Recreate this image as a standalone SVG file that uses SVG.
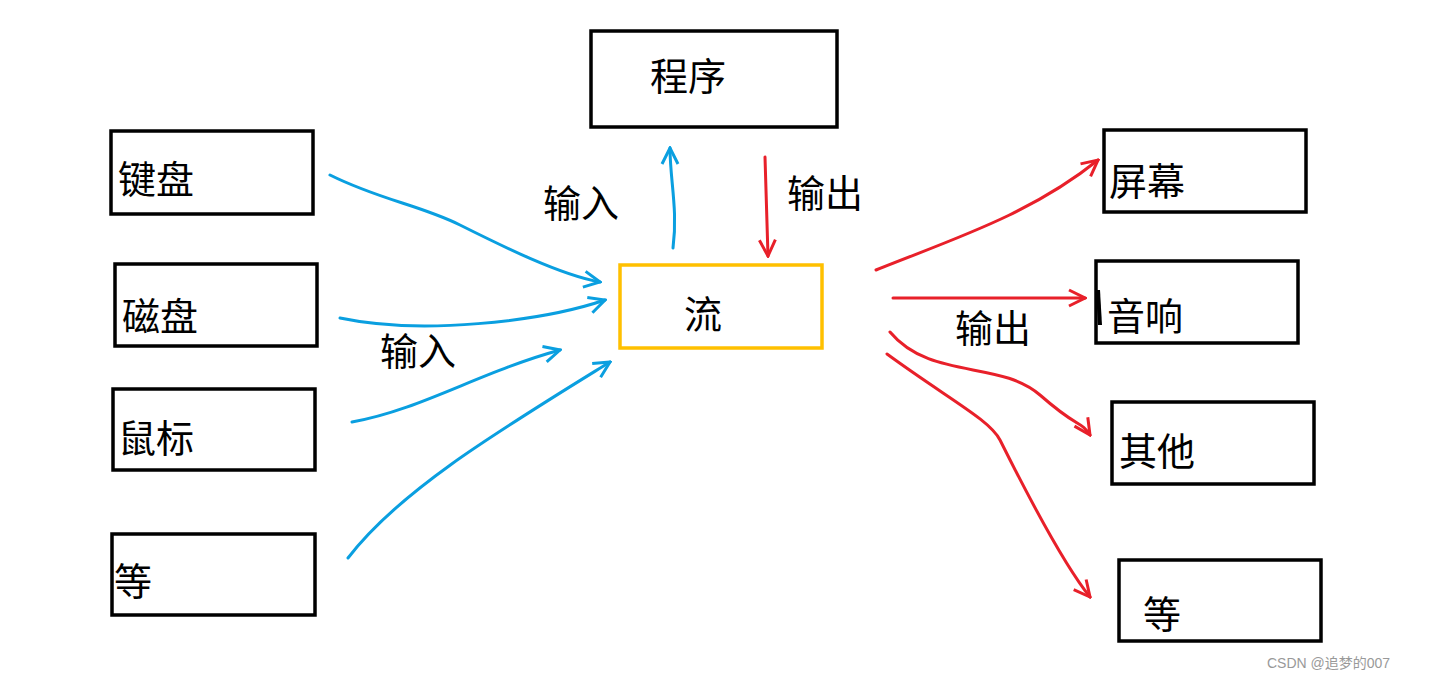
<svg xmlns="http://www.w3.org/2000/svg" width="1433" height="680" viewBox="0 0 1433 680">
<style>
.box{fill:#fff;stroke:#000;stroke-width:3.5}
.t{font-family:"Liberation Sans","Noto Sans CJK SC",sans-serif;font-size:38px;fill:#000}
.b{fill:none;stroke:#0A9FE0;stroke-width:3;stroke-linecap:round}
.r{fill:none;stroke:#E8202A;stroke-width:3;stroke-linecap:round}
</style>
<defs>
<marker id="mb" viewBox="0 0 20 20" refX="18" refY="10" markerWidth="20" markerHeight="20" markerUnits="userSpaceOnUse" orient="auto"><path d="M2,2 L18,10 L2,18" fill="none" stroke="#0A9FE0" stroke-width="3"/></marker>
<marker id="mr" viewBox="0 0 20 20" refX="18" refY="10" markerWidth="20" markerHeight="20" markerUnits="userSpaceOnUse" orient="auto"><path d="M2,2 L18,10 L2,18" fill="none" stroke="#E8202A" stroke-width="3"/></marker>
</defs>
<rect width="1433" height="680" fill="#fff"/>
<g id="n-chengxu"><rect class="box" x="591" y="31" width="246" height="96"/><text class="t" x="650" y="90">程序</text></g>
<g id="n-jianpan"><rect class="box" x="111" y="131" width="202" height="83"/><text class="t" x="118" y="193">键盘</text></g>
<g id="n-cipan"><rect class="box" x="115" y="264" width="202" height="82"/><text class="t" x="122" y="330">磁盘</text></g>
<g id="n-shubiao"><rect class="box" x="113" y="389" width="202" height="81"/><text class="t" x="118" y="452">鼠标</text></g>
<g id="n-deng1"><rect class="box" x="112" y="534" width="203" height="81"/><text class="t" x="114" y="595">等</text></g>
<g id="n-liu"><rect x="620" y="265" width="202" height="83" fill="#fff" stroke="#FFC000" stroke-width="3.5"/><text class="t" x="684" y="328">流</text></g>
<g id="n-pingmu"><rect class="box" x="1104" y="130" width="202" height="82"/><text class="t" x="1109" y="195">屏幕</text></g>
<g id="n-yinxiang"><rect class="box" x="1096" y="261" width="202" height="82"/><text class="t" x="1107" y="330">音响</text></g>
<g id="n-qita"><rect class="box" x="1112" y="402" width="202" height="82"/><text class="t" x="1119" y="465">其他</text></g>
<g id="n-deng2"><rect class="box" x="1119" y="560" width="202" height="81"/><text class="t" x="1143" y="628">等</text></g>
<g id="connectors">
<path class="b" d="M330,175 C380,200 420,205 460,225 S560,275 600,282" marker-end="url(#mb)"/>
<path class="b" d="M340,318 C420,335 540,322 605,300" marker-end="url(#mb)"/>
<path class="b" d="M352,422 C420,410 480,372 560,350" marker-end="url(#mb)"/>
<path class="b" d="M348,558 C400,490 500,430 610,362" marker-end="url(#mb)"/>
<path class="b" d="M673,248 C678,210 670,180 670,148" marker-end="url(#mb)"/>
<path class="r" d="M765,157 C766,200 767,230 768,256" marker-end="url(#mr)"/>
<path class="r" d="M876,270 C950,240 1030,215 1098,160" marker-end="url(#mr)"/>
<path class="r" d="M893,298 L1085,298" marker-end="url(#mr)"/>
<path class="r" d="M890,332 C930,380 1000,360 1040,395 S1080,420 1090,435" marker-end="url(#mr)"/>
<path class="r" d="M887,354 C950,400 990,420 1000,440 S1060,560 1090,597" marker-end="url(#mr)"/>
<path d="M1098,290 L1100,325" stroke="#000" stroke-width="4" fill="none"/>
</g>
<text class="t" x="543" y="217">输入</text>
<text class="t" x="787" y="207">输出</text>
<text class="t" x="380" y="365">输入</text>
<text class="t" x="955" y="342">输出</text>
<text x="1267" y="668" font-family="Liberation Sans,'Noto Sans CJK SC',sans-serif" font-size="14" fill="#999">CSDN @追梦的007</text>
</svg>
